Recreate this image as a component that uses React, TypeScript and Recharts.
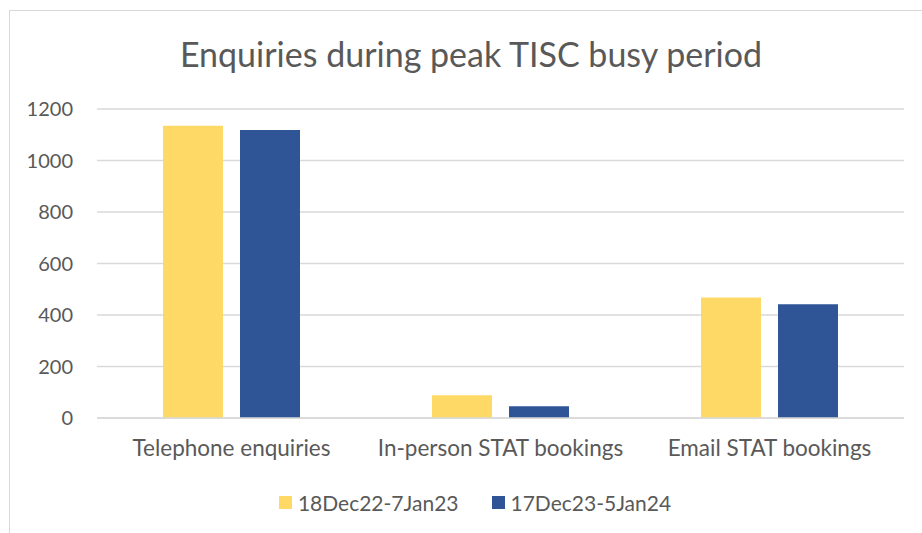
import React from 'react';
import { BarChart, Bar, XAxis, YAxis, CartesianGrid, Legend } from 'recharts';

const categories = ['Telephone enquiries', 'In-person STAT bookings', 'Email STAT bookings'];
const period2223 = [1135, 88, 468];
const period2324 = [1118, 46, 442];
const yTicks = [0, 200, 400, 600, 800, 1000, 1200];

const seriesNames = ['18Dec22-7Jan23', '17Dec23-5Jan24'];
const YELLOW = '#FFD966';
const BLUE = '#2F5597';
const TEXT = '#595959';
const FONT = 'Lato, "Open Sans", sans-serif';

const data = categories.map((name, i) => ({
  name,
  a: period2223[i],
  b: period2324[i],
}));

const CustomLegend = () => {
  const items = [
    { label: seriesNames[0], color: YELLOW },
    { label: seriesNames[1], color: BLUE },
  ];
  return (
    <div style={{ display: 'flex', justifyContent: 'center', height: 24, alignItems: 'center', paddingLeft: 46 }}>
      {items.map((it, i) => (
        <div key={it.label} style={{ display: 'flex', alignItems: 'center', marginLeft: i ? 33 : 0 }}>
          <span style={{ width: 13, height: 13, background: it.color, display: 'inline-block', marginRight: 6 }} />
          <span style={{ fontFamily: FONT, fontSize: 21, color: TEXT }}>{it.label}</span>
        </div>
      ))}
    </div>
  );
};

const App: React.FC = () => {
  return (
    <div
      style={{
        position: 'fixed',
        left: 0,
        top: 0,
        width: 922,
        height: 533,
        background: '#fff',
        overflow: 'hidden',
      }}
    >
      {/* chart frame, runs off the right and bottom edges */}
      <div
        style={{
          position: 'absolute',
          left: 9,
          top: 10,
          width: 1000,
          height: 1000,
          border: '1px solid #D9D9D9',
        }}
      />
      <div
        style={{
          position: 'absolute',
          left: 0,
          top: 33,
          width: 942,
          textAlign: 'center',
          fontFamily: FONT,
          fontSize: 34,
          color: TEXT,
        }}
      >
        Enquiries during peak TISC busy period
      </div>
      <div style={{ position: 'absolute', left: 0, top: 0 }}>
        <BarChart
          width={922}
          height={533}
          data={data}
          margin={{ top: 109, right: 18, left: 0, bottom: 19 }}
          barSize={60}
          barGap={17}
        >
          <CartesianGrid vertical={false} stroke="#D9D9D9" strokeWidth={1.3} />
          <XAxis
            dataKey="name"
            height={72}
            tickSize={0}
            tickMargin={22}
            axisLine={{ stroke: '#D9D9D9', strokeWidth: 1.3 }}
            tickLine={false}
            tick={{ fill: TEXT, fontSize: 22.5, fontFamily: FONT }}
            interval={0}
          />
          <YAxis
            width={97}
            domain={[0, 1200]}
            ticks={yTicks}
            tickSize={0}
            tickMargin={24}
            axisLine={false}
            tickLine={false}
            tick={{ fill: TEXT, fontSize: 20, fontFamily: FONT }}
          />
          <Legend verticalAlign="bottom" content={<CustomLegend />} />
          <Bar dataKey="a" name={seriesNames[0]} fill={YELLOW} isAnimationActive={false} />
          <Bar dataKey="b" name={seriesNames[1]} fill={BLUE} isAnimationActive={false} />
        </BarChart>
      </div>
    </div>
  );
};

export default App;
